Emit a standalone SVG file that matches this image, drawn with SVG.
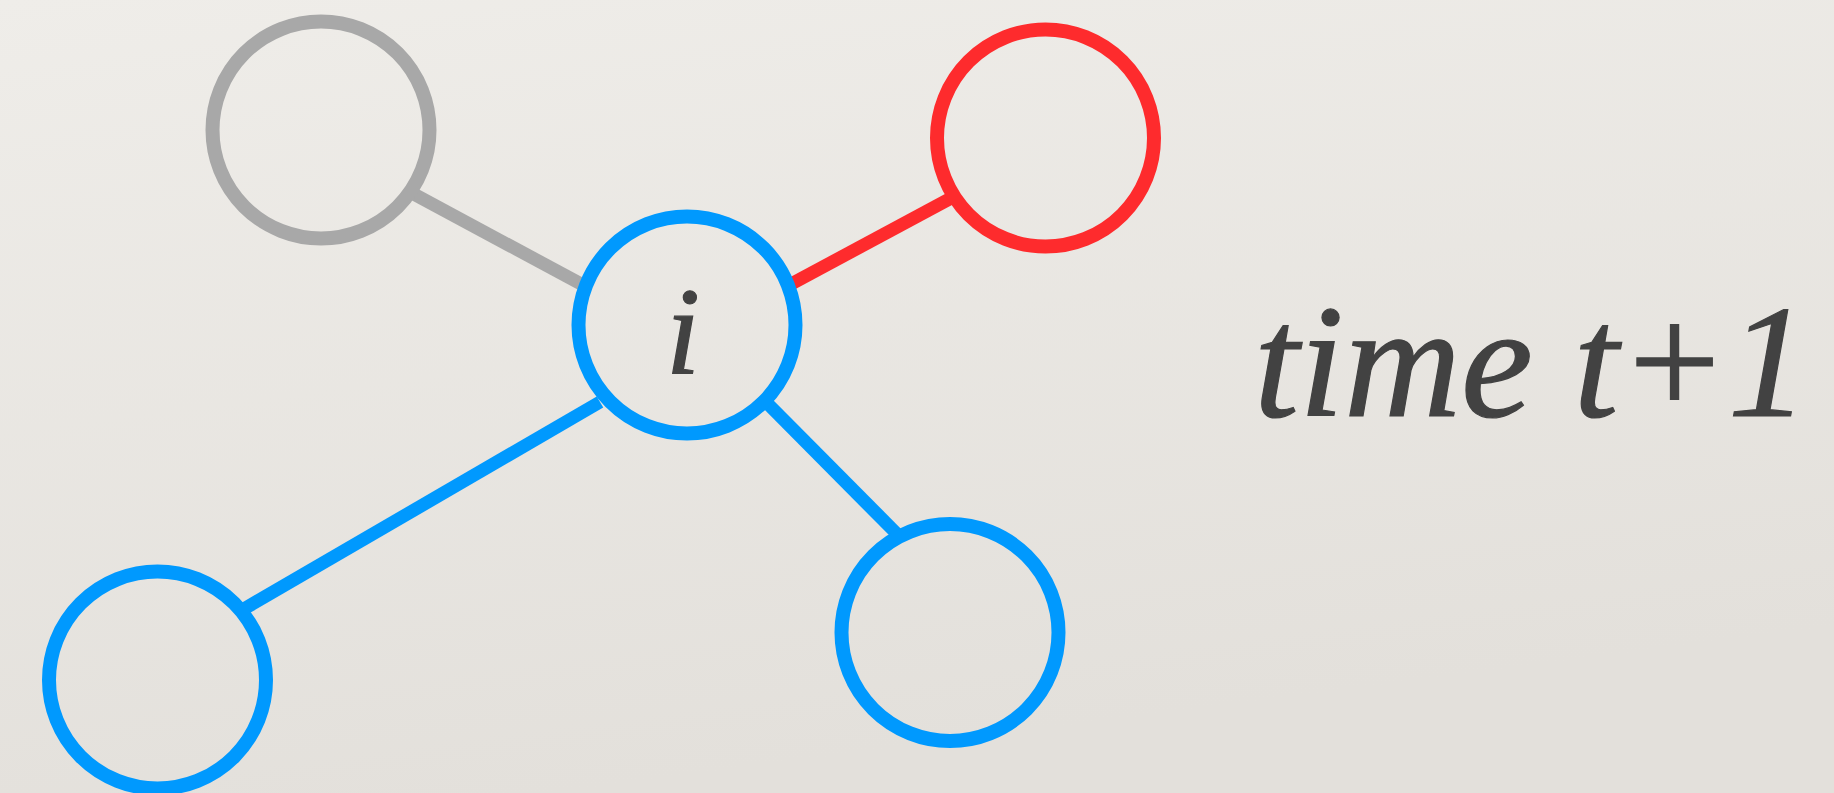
<svg xmlns="http://www.w3.org/2000/svg" width="1834" height="793" viewBox="0 0 1834 793">
  <defs>
    <linearGradient id="paper" x1="0" y1="0" x2="0.3" y2="1">
      <stop offset="0" stop-color="#efede9"/>
      <stop offset="1" stop-color="#e3e0db"/>
    </linearGradient>
  </defs>
  <style>
    .node { fill: none; stroke-width: 14; }
    .edge { stroke-width: 13; fill: none; stroke-linecap: butt; }
    .gray { stroke: #a8a8a8; }
    .red { stroke: #fe2b2d; }
    .blue { stroke: #0099fe; }
    .lbl { font-family: "Liberation Serif", "Times New Roman", serif; font-style: italic; fill: #424242; stroke: #424242; stroke-width: 1.2; }
  </style>
  <rect x="0" y="0" width="1834" height="793" fill="url(#paper)"/>
  <g id="connectors">
    <line class="edge gray" x1="410" y1="192" x2="583" y2="285"/>
    <line class="edge red" x1="793" y1="283" x2="955" y2="196"/>
    <line class="edge blue" x1="600" y1="402" x2="242" y2="610"/>
    <line class="edge blue" x1="767" y1="403" x2="901" y2="538"/>
  </g>
  <g id="node-gray"><circle class="node gray" cx="321" cy="130" r="108.5"/></g>
  <g id="node-red"><circle class="node red" cx="1045.5" cy="138" r="108.5"/></g>
  <g id="node-i">
    <circle class="node blue" cx="687" cy="325" r="108.5"/>
    <text class="lbl" x="683" y="374" font-size="124" text-anchor="middle">i</text>
  </g>
  <g id="node-bottom-left"><circle class="node blue" cx="157.5" cy="680" r="108.5"/></g>
  <g id="node-bottom-right"><circle class="node blue" cx="950" cy="632.5" r="108.5"/></g>
  <g id="title">
    <text class="lbl" x="1254" y="416" font-size="162">time t+1</text>
  </g>
</svg>
